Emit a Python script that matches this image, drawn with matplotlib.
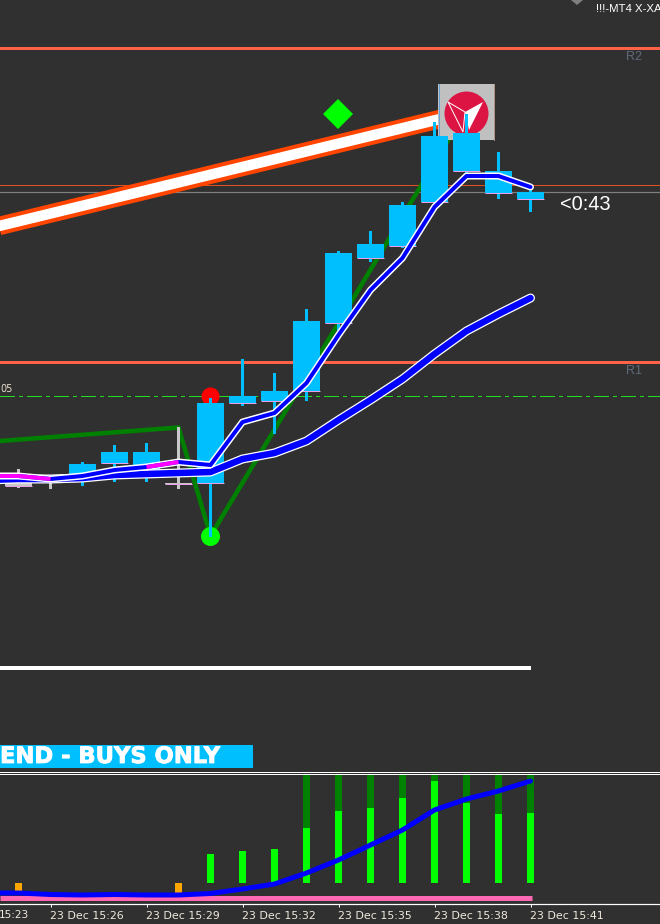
import matplotlib
matplotlib.use("Agg")
import matplotlib.pyplot as plt
import matplotlib.patheffects as pe
from matplotlib.patches import Polygon, Rectangle

minutes = [-4, -3, -2, -1, 0, 1, 2, 3, 4, 5, 6, 7, 8, 9, 10, 11, 12]
body_top = [478, 479, 464, 452, 452, 483, 403, 396, 391, 321, 253, 244, 205, 136, 133, 171, 192]
body_bottom = [486, 481, 478, 463, 470, 483.5, 483, 403, 401, 391, 323, 258, 246, 202, 171, 193, 199]
wick_top = [469, 476, 462, 445, 443, 427, 398, 359, 373, 309, 251, 231, 202, 122, 114, 152, 188]
wick_bottom = [488, 489, 486, 482, 482, 489, 537, 406, 434, 401, 333, 262, 248, 204, 173, 199, 212]
candle_colors = ["#c8c8c8", "#c8c8c8"] + ["#00bfff"] * 3 + ["#c8c8c8"] + ["#00bfff"] * 11

line_minutes = [-5] + minutes
fast_ma = [476, 476, 479, 476, 470, 467, 462, 465, 422, 413, 383, 335, 290, 258, 207, 176, 176, 187]
slow_ma = [480, 479, 479, 478, 475, 474, 473, 472, 459, 453, 441, 420, 400, 379, 354, 331, 314, 298]

zigzag_minutes = [-5, 1, 2, 10]
zigzag_levels = [442, 427.5, 536, 110]

# lower window
bar_minutes = [2, 3, 4, 5, 6, 7, 8, 9, 10, 11, 12]
bar_tops = [854, 851, 849, 828, 811, 808, 798, 781, 803, 814, 813]
dark_minutes = [5, 6, 7, 8, 9, 10, 11, 12]
orange_minutes = [-4, 1]
signal_line = [893, 893, 894.5, 895, 894.5, 895, 895, 893.5, 889, 884, 873, 860, 845, 830, 810, 799, 791, 781]

tick_minutes = [-3, 0, 3, 6, 9, 12]
tick_labels = ["23 Dec 15:26", "23 Dec 15:29", "23 Dec 15:32", "23 Dec 15:35", "23 Dec 15:38", "23 Dec 15:41"]

BG = "#303030"
PXW = 32.0


def px(x):
    return (x - 146.5) / PXW


def lw(pixels):
    return pixels * 0.72


fig = plt.figure(figsize=(6.6, 9.24), dpi=100, facecolor=BG)
ax = fig.add_axes([0, 0, 1, 1], facecolor="none")
ax.set_xlim(px(0), px(660))
ax.set_ylim(924, 0)
ax.axis("off")

# levels
ax.axhline(48, color="#ff6347", lw=lw(3), zorder=1)
ax.axhline(362, color="#ff6347", lw=lw(3), zorder=1)
ax.axhline(185, color="#e0501e", lw=lw(1), zorder=1)
ax.axhline(192, color="#808080", lw=lw(1.2), zorder=1)
ax.axhline(396, color="#22dd22", lw=lw(1), ls=(0, (15, 5, 3, 5)), antialiased=False, zorder=1)
ax.text(px(634), 56.5, "R2", color="#5f6b7a", fontsize=9, ha="center", va="center", family="Liberation Sans")
ax.text(px(634), 370.5, "R1", color="#5f6b7a", fontsize=9, ha="center", va="center", family="Liberation Sans")
ax.text(px(0), 389.5, "05", color="#e8e0d0", fontsize=7, ha="left", va="center")

# trend line running into the logo
ax.plot([px(-5), px(440)], [227, 119], color="#ff4500", lw=lw(18.5), solid_capstyle="butt", zorder=1.5)
ax.plot([px(-5), px(440)], [227, 119], color="white", lw=lw(10.5), solid_capstyle="butt", zorder=1.6)

# zigzag
ax.plot(zigzag_minutes, zigzag_levels, color="#008000", lw=lw(4.5), solid_joinstyle="miter", zorder=1.7)

# logo
ax.add_patch(Rectangle((px(438), 84), 56 / PXW, 56, color="#c0c0c0", lw=0, zorder=2))
ax.plot([px(438.5), px(438.5)], [84, 140], color="#6aa0d8", lw=lw(1), zorder=2.05)
ax.plot([px(493.5), px(493.5)], [84, 140], color="#b09080", lw=lw(1), zorder=2.05)
ax.plot([px(466)], [112.5], "o", color="#dc1444", ms=lw(44), mew=0, zorder=2.1)
ax.add_patch(Polygon([(px(483), 102), (px(465), 112), (px(469), 130)], color="white", lw=0, zorder=2.2))
ax.add_patch(Polygon([(px(448), 102), (px(465), 112), (px(463), 132)],
                     fill=False, ec="white", lw=lw(1), zorder=2.2))

# markers
ax.plot([px(210)], [396], "o", color="#ff0000", ms=lw(18), mew=0, zorder=2.3)
ax.plot([px(210)], [536], "o", color="#00ff00", ms=lw(19), mew=0, zorder=2.3)
ax.plot([px(338)], [114], "D", color="#00ff00", ms=lw(21), mew=0, zorder=2.3)

# candles
for m, t, b, wt, wb, c in zip(minutes, body_top, body_bottom, wick_top, wick_bottom, candle_colors):
    ax.bar(m, wb - wt, bottom=wt, width=3 / PXW, color=c, lw=0, zorder=3)
    ax.bar(m, b - t, bottom=t, width=27 / PXW, color=c, lw=0, zorder=3)
    ax.plot([m - 13.5 / PXW, m + 13.5 / PXW], [b, b], color="#e8a0e8", lw=lw(1), solid_capstyle="butt", zorder=3.1)

# moving averages
ax.plot(line_minutes, slow_ma, color="white", lw=lw(9), solid_capstyle="round", zorder=4)
ax.plot(line_minutes, slow_ma, color="#0000ff", lw=lw(6.5), solid_capstyle="round", zorder=4.1)
ax.plot(line_minutes, fast_ma, color="white", lw=lw(7), solid_capstyle="round", zorder=4.2)
ax.plot(line_minutes, fast_ma, color="#0000ff", lw=lw(4), solid_capstyle="round", zorder=4.3)
ax.plot(line_minutes[:3], fast_ma[:3], color="#ff00ff", lw=lw(4), solid_capstyle="butt", zorder=4.4)
ax.plot(line_minutes[5:7], fast_ma[5:7], color="#ff00ff", lw=lw(4), solid_capstyle="butt", zorder=4.4)

ax.text(px(560), 204, "<0:43", color="white", fontsize=14.4, ha="left", va="center", family="Liberation Sans")
ax.plot([px(0), px(531)], [667.5, 667.5], color="white", lw=lw(4), solid_capstyle="butt")

# top corner
ax.add_patch(Polygon([(px(571), 0), (px(583), 0), (px(577), 5)], color="#808080", lw=0))
ax.text(px(596), 9.5, "!!!-MT4 X-XA", color="white", fontsize=8.2, ha="left", va="center", family="Liberation Sans",
        clip_on=True)

# banner
ax.add_patch(Rectangle((px(0), 745), 253 / PXW, 23, color="#00bfff", lw=0))
ax.text(px(0), 756.5, "END - BUYS ONLY", color="white", fontsize=16.3, fontweight="bold", ha="left", va="center",
        family="DejaVu Sans", path_effects=[pe.withStroke(linewidth=0.6, foreground="white")])

ax.axhline(772, color="white", lw=lw(1))
ax.axhline(774, color="white", lw=lw(1))

# lower window with the time axis
sub = fig.add_axes([0, 20 / 924, 1, 129 / 924], facecolor="none")
sub.set_xlim(px(0), px(660))
sub.set_ylim(904, 775)
for name in ["top", "left", "right"]:
    sub.spines[name].set_visible(False)
sub.spines["bottom"].set_color("white")
sub.spines["bottom"].set_linewidth(lw(1.2))
sub.set_yticks([])
sub.bar(dark_minutes, [883 - 775] * len(dark_minutes), bottom=775, width=7 / PXW, color="#008000", lw=0, zorder=1)
sub.bar(bar_minutes, [883 - t for t in bar_tops], bottom=bar_tops, width=7 / PXW, color="#00ff00", lw=0, zorder=2)
sub.bar(orange_minutes, [10.5] * 2, bottom=883, width=7 / PXW, color="#ffa500", lw=0, zorder=2)
sub.plot([px(0), px(532)], [898, 898], color="#ff69b4", lw=lw(5), solid_capstyle="butt", zorder=2)
sub.plot(line_minutes, signal_line, color="#0000ff", lw=lw(5), solid_capstyle="round", zorder=3)
sub.set_xticks(tick_minutes)
sub.set_xticklabels(tick_labels, ha="left", color="#f0eadc", fontsize=7.9)
sub.tick_params(axis="x", colors="white", labelcolor="#f0eadc", length=2.2, width=lw(1), pad=2.5)
sub.text(px(29), -0.085, "15:23", color="#f0eadc", fontsize=7.6, ha="right", va="center",
         transform=sub.get_xaxis_transform())

fig.savefig("out.png", dpi=100, facecolor=BG)
